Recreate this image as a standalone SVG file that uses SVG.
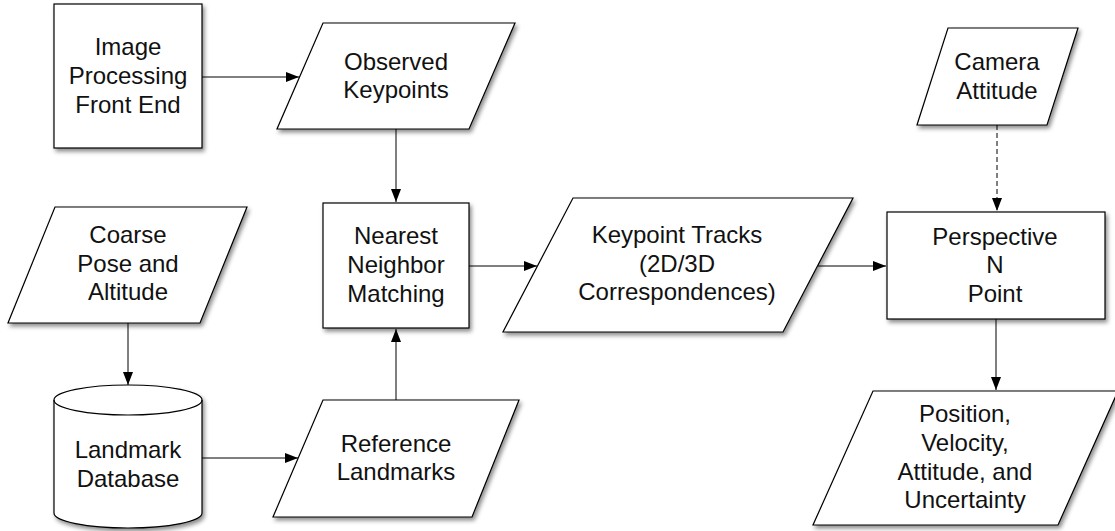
<svg xmlns="http://www.w3.org/2000/svg" width="1115" height="531" viewBox="0 0 1115 531">
<style>
.shape{fill:#fff;stroke:#000;stroke-width:1.2;filter:url(#sh)}
.lbl{font-family:"Liberation Sans",Arial,sans-serif;font-size:24px;fill:#111;text-anchor:middle}
.conn{stroke:#000;stroke-width:1;fill:none;marker-end:url(#ah)}
.dash{stroke-dasharray:5,3}
</style>
<defs>
<filter id="sh" x="-10%" y="-10%" width="125%" height="130%">
<feDropShadow dx="2" dy="3" stdDeviation="2" flood-color="#000" flood-opacity="0.45"/>
</filter>
<marker id="ah" markerUnits="userSpaceOnUse" markerWidth="14" markerHeight="12" refX="13" refY="5" orient="auto">
<path d="M0,0 L13,5 L0,10 z" fill="#000"/>
</marker>
</defs>
<g id="connectors">
<line class="conn" x1="202" y1="77" x2="299" y2="77"/>
<line class="conn" x1="396" y1="129" x2="396" y2="202"/>
<line class="conn" x1="128" y1="323" x2="128" y2="385"/>
<line class="conn" x1="202" y1="458" x2="298" y2="458"/>
<line class="conn" x1="396" y1="400" x2="396" y2="329"/>
<line class="conn" x1="469" y1="266" x2="537" y2="266"/>
<line class="conn" x1="818" y1="266" x2="886" y2="266"/>
<line class="conn dash" x1="997" y1="125" x2="997" y2="211"/>
<line class="conn" x1="996" y1="319" x2="996" y2="390"/>
</g>
<g id="image-processing">
<rect class="shape" x="54" y="4" width="148" height="144"/>
<text class="lbl" x="128" y="55">Image</text>
<text class="lbl" x="128" y="84">Processing</text>
<text class="lbl" x="128" y="113">Front End</text>
</g>
<g id="observed-keypoints">
<polygon class="shape" points="323,23 515,23 469,129 277,129"/>
<text class="lbl" x="396" y="70">Observed</text>
<text class="lbl" x="396" y="98">Keypoints</text>
</g>
<g id="nearest-neighbor">
<rect class="shape" x="323" y="203" width="146" height="125"/>
<text class="lbl" x="396" y="244">Nearest</text>
<text class="lbl" x="396" y="273">Neighbor</text>
<text class="lbl" x="396" y="302">Matching</text>
</g>
<g id="coarse-pose">
<polygon class="shape" points="55,207 247,207 200,323 8,323"/>
<text class="lbl" x="128" y="243">Coarse</text>
<text class="lbl" x="128" y="272">Pose and</text>
<text class="lbl" x="128" y="300">Altitude</text>
</g>
<g id="landmark-database">
<path class="shape" d="M54,400 A74,15 0 0 1 202,400 L202,513 A74,15 0 0 1 54,513 Z"/>
<path d="M54,400 A74,15 0 0 0 202,400" fill="none" stroke="#000" stroke-width="1.2"/>
<text class="lbl" x="128" y="458">Landmark</text>
<text class="lbl" x="128" y="487">Database</text>
</g>
<g id="reference-landmarks">
<polygon class="shape" points="323,400 519,400 472,517 273,517"/>
<text class="lbl" x="396" y="452">Reference</text>
<text class="lbl" x="396" y="480">Landmarks</text>
</g>
<g id="keypoint-tracks">
<polygon class="shape" points="573,198 853,198 783,332 503,332"/>
<text class="lbl" x="677" y="243">Keypoint Tracks</text>
<text class="lbl" x="677" y="272">(2D/3D</text>
<text class="lbl" x="677" y="300">Correspondences)</text>
</g>
<g id="camera-attitude">
<polygon class="shape" points="948,28 1078,28 1047,125 917,125"/>
<text class="lbl" x="997" y="70">Camera</text>
<text class="lbl" x="997" y="99">Attitude</text>
</g>
<g id="perspective-n-point">
<rect class="shape" x="887" y="212" width="218" height="107"/>
<text class="lbl" x="995" y="245">Perspective</text>
<text class="lbl" x="995" y="273">N</text>
<text class="lbl" x="995" y="302">Point</text>
</g>
<g id="position-velocity">
<polygon class="shape" points="873,391 1118,391 1058,525 813,525"/>
<text class="lbl" x="965" y="422">Position,</text>
<text class="lbl" x="965" y="451">Velocity,</text>
<text class="lbl" x="965" y="480">Attitude, and</text>
<text class="lbl" x="965" y="508">Uncertainty</text>
</g>
</svg>
